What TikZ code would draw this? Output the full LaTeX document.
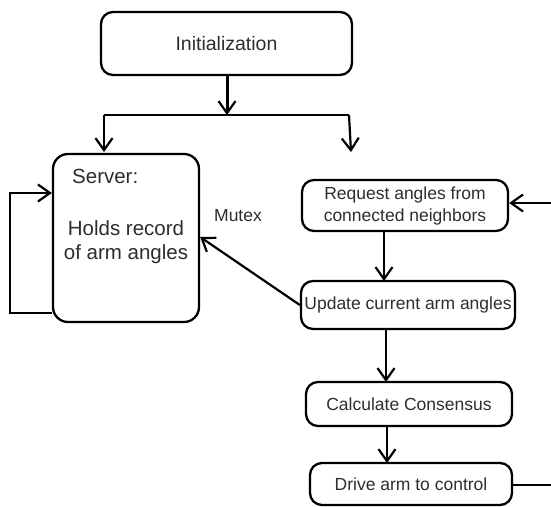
\documentclass[tikz,border=0pt]{standalone}
\usepackage{fontspec}
\setmainfont{Liberation Sans}
\usetikzlibrary{arrows.meta}
\definecolor{txt}{RGB}{45,45,45}
\tikzset{
  box/.style={draw=black, line width=2.3pt, rounded corners=12pt, inner sep=0pt,
              text=txt, align=center, font=\fontsize{17.5}{21}\selectfont},
  flow/.style={draw=black, line width=2.2pt,
               -{Straight Barb[length=12pt,width=17pt,line width=2.2pt]}},
  plain/.style={draw=black, line width=2.2pt},
  lbl/.style={text=txt, inner sep=0pt}
}
\begin{document}
\begin{tikzpicture}[x=1pt,y=-1pt]
\useasboundingbox (0,0) rectangle (551,506);

% boxes
\node[box, minimum width=251pt, minimum height=63pt, font=\fontsize{19.5}{23}\selectfont] (init) at (226.5,43.5) {Initialization};
\node[box, minimum width=146pt, minimum height=168pt, rounded corners=15pt] (srv) at (126,238) {};
\node[lbl, anchor=west, font=\fontsize{20.5}{24}\selectfont] (srvtitle) at (72,176) {Server:};
\node[lbl, align=center, font=\fontsize{20.5}{24}\selectfont] (srvbody) at (126,242) {Holds record\\of arm angles};
\node[box, minimum width=206pt, minimum height=51pt, font=\fontsize{17.5}{22}\selectfont] (req) at (405,205.5) {Request angles from\\connected neighbors};
\node[box, minimum width=214pt, minimum height=48pt] (upd) at (408,305) {Update current arm angles};
\node[box, minimum width=206pt, minimum height=44pt] (calc) at (409,404) {Calculate Consensus};
\node[box, minimum width=202pt, minimum height=42pt] (drive) at (411,484) {Drive arm to control};
\node[lbl, font=\fontsize{17.5}{21}\selectfont] (mutex) at (238,216) {Mutex};

% split below the initialization box
\coordinate (split) at (227,115);
\coordinate (splitL) at (104,115);
\coordinate (splitR) at (349,115);
\coordinate (leftTip) at (104,152);
\coordinate (rightTip) at (351,152);
\draw[flow, line width=3pt] (init.south -| split) -- (split);
\draw[plain] (splitL) -- (splitR);
\draw[flow] (splitL) -- (leftTip);
\draw[flow] (splitR) -- (rightTip);

% server self loop
\coordinate (loopA) at (10,313);
\coordinate (loopB) at (10,193);
\draw[flow] (srv.west |- loopA) -- (loopA) -- (loopB) -- (srv.west |- loopB);

% update writes to the server
\draw[flow] (upd.west) -- (srv.east |- 0,237);

% incoming request trigger and outgoing drive line
\coordinate (reqIn) at (551,203);
\coordinate (driveOut) at (551,485);
\draw[flow] (reqIn) -- (req.east |- reqIn);
\draw[plain] (drive.east |- driveOut) -- (driveOut);

% vertical chain
\draw[flow] (384,231) -- (384,281);
\draw[flow] (386,329) -- (386,382);
\draw[flow] (387,426) -- (387,463);
\end{tikzpicture}
\end{document}
